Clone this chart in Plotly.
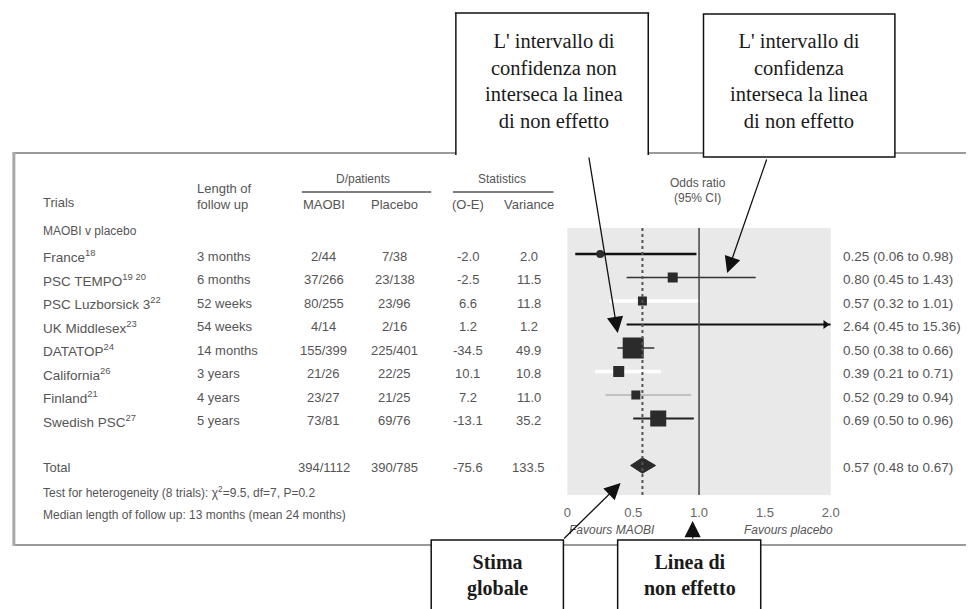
import plotly.graph_objects as go

# ---- data -------------------------------------------------------------
trials = ["France<sup>18</sup>", "PSC TEMPO<sup>19 20</sup>", "PSC Luzborsick 3<sup>22</sup>",
          "UK Middlesex<sup>23</sup>", "DATATOP<sup>24</sup>", "California<sup>26</sup>",
          "Finland<sup>21</sup>", "Swedish PSC<sup>27</sup>"]
follow_up = ["3 months", "6 months", "52 weeks", "54 weeks", "14 months", "3 years", "4 years", "5 years"]
maobi = ["2/44", "37/266", "80/255", "4/14", "155/399", "21/26", "23/27", "73/81"]
placebo = ["7/38", "23/138", "23/96", "2/16", "225/401", "22/25", "21/25", "69/76"]
o_minus_e = ["-2.0", "-2.5", "6.6", "1.2", "-34.5", "10.1", "7.2", "-13.1"]
variance = ["2.0", "11.5", "11.8", "1.2", "49.9", "10.8", "11.0", "35.2"]
odds_ratio = [0.25, 0.80, 0.57, 2.64, 0.50, 0.39, 0.52, 0.69]
ci_low = [0.06, 0.45, 0.32, 0.45, 0.38, 0.21, 0.29, 0.50]
ci_high = [0.98, 1.43, 1.01, 15.36, 0.66, 0.71, 0.94, 0.96]

total_maobi, total_placebo = "394/1112", "390/785"
total_o_e, total_var = "-75.6", "133.5"
total_or, total_low, total_high = 0.57, 0.48, 0.67

x_ticks = [0, 0.5, 1.0, 1.5, 2.0]
x_tick_labels = ["0", "0.5", "1.0", "1.5", "2.0"]

# ---- styles -----------------------------------------------------------
ci_colors = ["#111", "#333", "#ffffff", "#111", "#333", "#ffffff", "#9a9a9a", "#222"]
ci_widths = [2.5, 1.3, 3.5, 2.2, 1.5, 3.5, 1.0, 2.2]
box_sizes = [8, 10, 9, 0, 21, 11, 9, 16]
box_symbols = ["circle", "square", "square", "square", "square", "square", "square", "square"]

W, H = 970, 609
X_MAX = 2.0
TOTAL_ROW = 9
SANS = "Liberation Sans, Arial, sans-serif"
SERIF = "Liberation Serif, Times New Roman, serif"
TXT = "#555555"


def px(x):
    return x / W


def py(y):
    return 1 - y / H


fig = go.Figure()

# confidence intervals and point estimates
for i in range(len(trials)):
    hi = min(ci_high[i], X_MAX)
    fig.add_trace(go.Scatter(x=[ci_low[i], hi], y=[i, i], mode="lines",
                             line=dict(color=ci_colors[i], width=ci_widths[i]),
                             hoverinfo="skip", showlegend=False))
    if ci_high[i] > X_MAX:
        fig.add_trace(go.Scatter(x=[X_MAX - 0.04], y=[i], mode="markers",
                                 marker=dict(symbol="triangle-right", size=8, color="#111"),
                                 hoverinfo="skip", showlegend=False))
    if odds_ratio[i] <= X_MAX and box_sizes[i] > 0:
        fig.add_trace(go.Scatter(x=[odds_ratio[i]], y=[i], mode="markers",
                                 marker=dict(symbol=box_symbols[i], size=box_sizes[i],
                                             color="#2b2b2b", line=dict(width=0)),
                                 hoverinfo="skip", showlegend=False))

# pooled estimate diamond
dh = 0.33
fig.add_trace(go.Scatter(x=[total_low, total_or, total_high, total_or, total_low],
                         y=[TOTAL_ROW, TOTAL_ROW - dh, TOTAL_ROW, TOTAL_ROW + dh, TOTAL_ROW],
                         mode="lines", fill="toself", fillcolor="#2b2b2b",
                         line=dict(color="#2b2b2b", width=1),
                         hoverinfo="skip", showlegend=False))

shapes = []

# reference lines: pooled estimate (dotted) and no effect (solid)
shapes.append(dict(type="line", xref="x", yref="paper", x0=total_or, x1=total_or,
                   y0=py(495), y1=py(228), line=dict(color="#555", width=2, dash="dot"),
                   layer="above"))
shapes.append(dict(type="line", xref="x", yref="paper", x0=1.0, x1=1.0,
                   y0=py(495), y1=py(228), line=dict(color="#444", width=1.5), layer="above"))

# ---- table text ---------------------------------------------------------
ann = []


def cell(text, x, row, anchor="left", size=13, color=TXT):
    ann.append(dict(text=text, x=px(x), y=row, xref="paper", yref="y", xanchor=anchor,
                    yanchor="middle", showarrow=False, yshift=-2,
                    font=dict(family=SANS, size=size, color=color)))


for i in range(len(trials)):
    cell(trials[i], 37, i, size=13.5)
    cell(follow_up[i], 194, i)
    cell(maobi[i], 324, i, "center")
    cell(placebo[i], 396, i, "center")
    cell(o_minus_e[i], 470, i, "center")
    cell(variance[i], 532, i, "center")
    cell(f"{odds_ratio[i]:.2f} ({ci_low[i]:.2f} to {ci_high[i]:.2f})", 848, i, size=13.5)

cell("Total", 37, TOTAL_ROW)
cell(total_maobi, 324, TOTAL_ROW, "center")
cell(total_placebo, 396, TOTAL_ROW, "center")
cell(total_o_e, 470, TOTAL_ROW, "center")
cell(total_var, 532, TOTAL_ROW, "center")
cell(f"{total_or:.2f} ({total_low:.2f} to {total_high:.2f})", 848, TOTAL_ROW, size=13.5)


def ptext(text, x, y, anchor="left", size=13, color=TXT, family=SANS, **kw):
    ann.append(dict(text=text, x=px(x), y=py(y), xref="paper", yref="paper", xanchor=anchor,
                    yanchor="middle", showarrow=False,
                    font=dict(family=family, size=size, color=color), **kw))


# headers
ptext("Trials", 37, 202)
ptext("Length of", 194, 188)
ptext("follow up", 194, 204)
ptext("D/patients", 364, 179, "center", 12)
ptext("Statistics", 505, 179, "center", 12)
ptext("MAOBI", 324, 205, "center")
ptext("Placebo", 396, 205, "center")
ptext("(O-E)", 470, 205, "center")
ptext("Variance", 532, 205, "center")
ptext("Odds ratio", 703, 183, "center", 12)
ptext("(95% CI)", 703, 198, "center", 12)
ptext("MAOBI v placebo", 37, 231, size=12)
ptext("Test for heterogeneity (8 trials): χ<sup>2</sup>=9.5, df=7, P=0.2", 37, 492, size=12)
ptext("Median length of follow up: 13 months (mean 24 months)", 37, 515, size=12)
ptext("<i>Favours MAOBI</i>", 616, 530, "center", 12)
ptext("<i>Favours placebo</i>", 795, 530, "center", 12)

# callout texts
ptext("L' intervallo di<br>confidenza non<br>interseca la linea<br>di non effetto",
      557, 81, "center", 20.5, "#1a1a1a", SERIF)
ptext("L' intervallo di<br>confidenza<br>interseca la linea<br>di non effetto",
      806, 81, "center", 20.5, "#1a1a1a", SERIF)
ptext("<b>Stima</b><br><b>globale</b>", 500, 575, "center", 20, "#1a1a1a", SERIF)
ptext("<b>Linea di</b><br><b>non effetto</b>", 695, 575, "center", 20, "#1a1a1a", SERIF)


def arrow(tip, tail):
    ann.append(dict(text="", x=px(tip[0]), y=py(tip[1]), xref="paper", yref="paper",
                    ax=tail[0] - tip[0], ay=tail[1] - tip[1], axref="pixel", ayref="pixel",
                    showarrow=True, arrowhead=2, arrowsize=2.5, arrowwidth=1.3,
                    arrowcolor="#111"))


arrow((622, 333), (593, 156))
arrow((733, 273), (773, 158))
arrow((625, 483), (567, 540))
arrow((698, 521), (698, 540))


# ---- frames ------------------------------------------------------------
def rect(x0, y0, x1, y1, fill="white", line=None):
    shapes.append(dict(type="rect", xref="paper", yref="paper", x0=px(x0), x1=px(x1),
                       y0=py(y1), y1=py(y0), fillcolor=fill,
                       line=line if line else dict(width=0), layer="above"))


def seg(x0, y0, x1, y1, color="#111", width=1.5):
    shapes.append(dict(type="line", xref="paper", yref="paper", x0=px(x0), x1=px(x1),
                       y0=py(y0), y1=py(y1), line=dict(color=color, width=width), layer="above"))


# header rules
seg(302, 192, 433, 192, "#555", 1.5)
seg(455, 192, 557, 192, "#555", 1.5)

# outer panel
seg(10, 153, 975, 153, "#9a9a9a", 2)
seg(10, 545, 975, 545, "#9a9a9a", 2)
seg(10, 152, 10, 546, "#a8a8a8", 3)

# callout boxes
rect(458, 13, 653, 155)
seg(458, 155, 458, 13)
seg(457, 13, 654, 13)
seg(653, 13, 653, 155)
rect(709, 14, 903, 157, line=dict(color="#111", width=1.5))
rect(433, 540, 567, 620, line=dict(color="#111", width=1.5))
rect(622, 540, 767, 620, line=dict(color="#111", width=1.5))

fig.update_layout(
    width=W, height=H, margin=dict(l=0, r=0, t=0, b=0),
    paper_bgcolor="white", plot_bgcolor="#e9e9e9",
    showlegend=False, annotations=ann, shapes=shapes,
    xaxis=dict(domain=[px(571), px(838)], range=[0, X_MAX], tickvals=x_ticks,
               ticktext=x_tick_labels, showgrid=False, zeroline=False, showline=False,
               ticks="outside", ticklen=5, tickcolor="rgba(0,0,0,0)",
               tickfont=dict(family=SANS, size=13, color="#666")),
    yaxis=dict(domain=[py(495), py(228)], range=[(495 - 254) / 23.5, (228 - 254) / 23.5],
               showgrid=False, zeroline=False, showticklabels=False, showline=False),
)

fig.write_html("out.html")
